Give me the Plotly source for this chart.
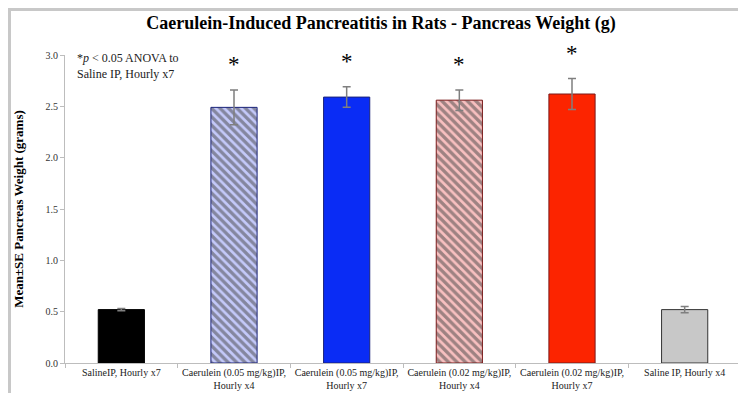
import plotly.graph_objects as go

categories = ["SalineIP, Hourly x7", "Caerulein (0.05 mg/kg)IP,<br>Hourly x4",
              "Caerulein (0.05 mg/kg)IP,<br>Hourly x7", "Caerulein (0.02 mg/kg)IP,<br>Hourly x4",
              "Caerulein (0.02 mg/kg)IP,<br>Hourly x7", "Saline IP, Hourly x4"]
means = [0.52, 2.49, 2.59, 2.56, 2.62, 0.52]
se = [0.01, 0.17, 0.10, 0.10, 0.15, 0.03]
significant = [False, True, True, True, True, False]
y_ticks = [0.0, 0.5, 1.0, 1.5, 2.0, 2.5, 3.0]

bar_colors = ["#000000", "#c4c9fa", "#0a2cf5", "#f8c0c0", "#fc2400", "#c8c8c8"]
hatch_shapes = ["", "\\", "", "\\", "", ""]
hatch_colors = ["#000000", "#0a18b0", "#0a2cf5", "#d8201a", "#fc2400", "#c8c8c8"]
line_colors = ["#000000", "#1a237a", "#1a237a", "#7a1a1a", "#7a1a1a", "#333333"]

SERIF = "Liberation Serif"

fig = go.Figure()
fig.add_trace(go.Bar(
    x=categories, y=means, width=0.41,
    marker=dict(color=bar_colors,
                line=dict(color=line_colors, width=1),
                pattern=dict(shape=hatch_shapes, fgcolor=hatch_colors,
                             size=6, solidity=0.55, fillmode="overlay")),
    error_y=dict(type="data", array=se, visible=True, color="#7f7f7f",
                 thickness=1.5, width=4),
    showlegend=False,
))

annotations = []
for c, m, s, sig in zip(categories, means, se, significant):
    if sig:
        annotations.append(dict(x=c, y=m + s, xref="x", yref="y", text="*",
                                showarrow=False, yanchor="bottom", yshift=11,
                                font=dict(family=SERIF, size=23, color="#000")))
annotations.append(dict(xref="paper", yref="paper", x=0.015, y=1.0, yshift=6,
                        xanchor="left", yanchor="top", align="left",
                        text="*<i>p</i> < 0.05 ANOVA to<br>Saline IP, Hourly x7",
                        showarrow=False,
                        font=dict(family=SERIF, size=12, color="#222")))

L, R, T, B = 57, 13, 47, 38
W, H = 746, 393
pw, ph = W - L - R, H - T - B
shapes = [dict(type="rect", xref="paper", yref="paper",
               x0=(1.5 - L) / pw, x1=(W - 1.5 - L) / pw,
               y0=-(B - 1.5) / ph, y1=1 + (T - 1.5) / ph,
               line=dict(color="#c8c8c8", width=3), layer="below")]

fig.update_layout(
    width=W, height=H,
    margin=dict(l=L, r=R, t=T, b=B),
    paper_bgcolor="white", plot_bgcolor="white",
    title=dict(text="<b>Caerulein-Induced Pancreatitis in Rats - Pancreas Weight (g)</b>",
               x=0.5, xanchor="center", y=0.963, yanchor="middle",
               font=dict(family=SERIF, size=18, color="#000")),
    font=dict(family=SERIF),
    annotations=annotations,
    shapes=shapes,
)
fig.update_xaxes(showline=True, linecolor="#bdbdbd", linewidth=1,
                 ticks="outside", tickson="boundaries", ticklen=4, tickcolor="#bdbdbd",
                 tickangle=0,
                 tickfont=dict(family=SERIF, size=10, color="#222"),
                 showgrid=False, zeroline=False, automargin=False)
fig.update_yaxes(range=[0, 3.0], tickvals=y_ticks, tickformat=".1f",
                 showline=True, linecolor="#bdbdbd", linewidth=1,
                 ticks="outside", ticklen=4, tickcolor="#bdbdbd",
                 tickfont=dict(family=SERIF, size=10, color="#333"),
                 showgrid=False, zeroline=False, automargin=False,
                 title=dict(text="<b>Mean±SE Pancreas Weight (grams)</b>", standoff=18,
                            font=dict(family=SERIF, size=13, color="#000")))

fig.write_html("out.html")
